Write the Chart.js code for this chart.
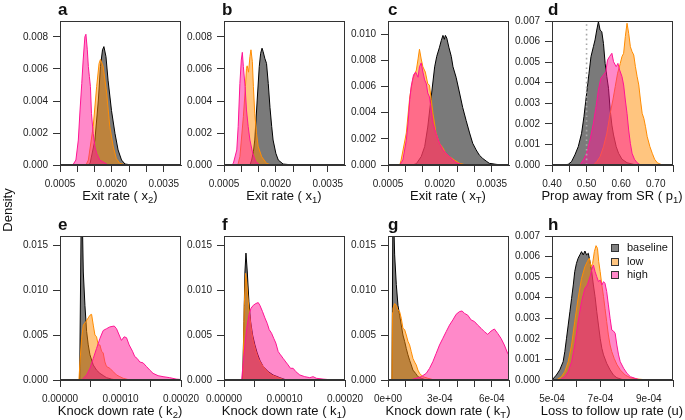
<!DOCTYPE html>
<html><head><meta charset="utf-8">
<script src="https://cdn.jsdelivr.net/npm/chart.js@4/dist/chart.umd.min.js"></script>
<style>
html,body{margin:0;padding:0;}
body{width:685px;height:420px;position:relative;background:#fff;overflow:hidden;font-family:"Liberation Sans",Arial,Helvetica,sans-serif;color:#111;}
canvas{position:absolute;}
.t{position:absolute;width:220px;text-align:center;font-size:13px;line-height:14px;white-space:nowrap;z-index:5;}
.t span{font-size:9.5px;position:relative;top:3px;}
.L{position:absolute;font-weight:bold;font-size:17px;line-height:17px;z-index:5;}
.dens{position:absolute;left:-22px;top:202px;width:60px;text-align:center;font-size:13px;line-height:16px;transform:rotate(-90deg);z-index:5;}
.lg{position:absolute;font-size:11px;line-height:13px;z-index:5;}
.sq{position:absolute;width:6px;height:6px;border:1px solid #333;z-index:5;}
</style></head><body>
<script>
// ---------- data ----------
const seriesNames = ['baseline', 'low', 'high'];

// panel a : Exit rate (x2)
const aBaseX = [0.0013, 0.00137, 0.00151, 0.00161, 0.00167, 0.00173, 0.00177, 0.00183, 0.00189, 0.00199, 0.00209, 0.00218, 0.00228, 0.00238, 0.00252, 0.0027];
const aBaseY = [0, 0.0001, 0.00156, 0.00406, 0.00615, 0.0072, 0.0074, 0.00677, 0.0053, 0.0034, 0.00198, 0.00094, 0.00031, 0.00006, 0.00002, 0];
const aLowX = [0.00125, 0.00132, 0.00146, 0.00156, 0.00163, 0.00167, 0.00175, 0.00185, 0.00194, 0.00204, 0.00213, 0.00223, 0.00242];
const aLowY = [0, 0.00031, 0.0024, 0.0049, 0.00635, 0.0066, 0.00615, 0.0045, 0.0024, 0.00115, 0.0004, 0.0001, 0];
const aHighX = [0.00087, 0.00096, 0.00103, 0.00108, 0.00113, 0.00117, 0.00122, 0.00125, 0.00129, 0.00132, 0.00135, 0.00138, 0.00141, 0.00146, 0.00151, 0.00156, 0.00165, 0.00185, 0.0019];
const aHighY = [0, 0.00031, 0.00156, 0.00344, 0.0051, 0.00656, 0.00802, 0.00817, 0.0072, 0.00615, 0.00552, 0.0049, 0.00323, 0.00198, 0.00115, 0.00073, 0.00031, 0.00006, 0];

// panel b : Exit rate (x1)
const bBaseX = [0.00125, 0.0013, 0.00135, 0.00139, 0.00146, 0.00152, 0.00156, 0.0016, 0.00163, 0.00168, 0.00173, 0.00178, 0.00183, 0.00188, 0.00192, 0.002, 0.00207, 0.00221, 0.0025];
const bBaseY = [0, 0.00031, 0.00083, 0.00156, 0.00406, 0.00615, 0.00698, 0.0073, 0.0071, 0.00667, 0.00635, 0.0051, 0.0036, 0.0024, 0.00156, 0.00073, 0.00031, 0.00006, 0];
const bLowX = [0.0009, 0.00096, 0.00106, 0.00112, 0.00115, 0.00117, 0.00121, 0.00125, 0.00128, 0.00132, 0.00135, 0.00139, 0.00144, 0.00149, 0.00159, 0.00173, 0.00188];
const bLowY = [0, 0.00052, 0.00302, 0.0049, 0.00604, 0.0062, 0.0058, 0.00677, 0.0072, 0.00646, 0.0049, 0.0032, 0.00198, 0.00115, 0.00052, 0.0001, 0];
const bHighX = [0.00072, 0.00077, 0.00087, 0.00091, 0.00096, 0.001, 0.00103, 0.00106, 0.00111, 0.00115, 0.0012, 0.00125, 0.00133, 0.00142, 0.00154];
const bHighY = [0, 0.0001, 0.00094, 0.0024, 0.0051, 0.00656, 0.00704, 0.00615, 0.0049, 0.00344, 0.0024, 0.00156, 0.00073, 0.00021, 0];

// panel c : Exit rate (xT)
const cBaseX = [0.0012, 0.00132, 0.00146, 0.00156, 0.00165, 0.00175, 0.00185, 0.00191, 0.00199, 0.00204, 0.00209, 0.00213, 0.00216, 0.0022, 0.00226, 0.00233, 0.00238, 0.00247, 0.00257, 0.00266, 0.00276, 0.00286, 0.00295, 0.00305, 0.00314, 0.00324, 0.00334, 0.00343, 0.00363, 0.00382];
const cBaseY = [0, 0.0001, 0.00064, 0.0014, 0.0029, 0.0052, 0.0075, 0.0083, 0.009, 0.0095, 0.0099, 0.0096, 0.0099, 0.0097, 0.009, 0.0083, 0.0075, 0.0067, 0.0055, 0.0044, 0.0034, 0.00245, 0.00166, 0.00115, 0.00076, 0.0005, 0.0003, 0.00013, 0.00005, 0];
const cLowX = [0.00084, 0.00088, 0.00103, 0.00113, 0.00122, 0.00132, 0.00137, 0.00141, 0.00146, 0.00151, 0.00158, 0.00165, 0.0017, 0.00175, 0.0018, 0.00189, 0.00199, 0.00209, 0.00218, 0.00228, 0.00242, 0.00257, 0.00276];
const cLowY = [0, 0.00038, 0.00245, 0.0052, 0.0066, 0.00725, 0.0081, 0.00884, 0.0081, 0.0075, 0.0071, 0.0062, 0.0061, 0.005, 0.00395, 0.00245, 0.00166, 0.0013, 0.00085, 0.00064, 0.00038, 0.00013, 0];
const cHighX = [0.00084, 0.00093, 0.00103, 0.00108, 0.00113, 0.00117, 0.00124, 0.0013, 0.00137, 0.00141, 0.00146, 0.00151, 0.00156, 0.00161, 0.00165, 0.0017, 0.00175, 0.0018, 0.00189, 0.00199, 0.00209, 0.00218, 0.00228, 0.00238, 0.00247, 0.00266];
const cHighY = [0, 0.00038, 0.0019, 0.0032, 0.005, 0.006, 0.0069, 0.0071, 0.0067, 0.0075, 0.0078, 0.0071, 0.0065, 0.0062, 0.0055, 0.0052, 0.0042, 0.0032, 0.0024, 0.00166, 0.00115, 0.0009, 0.00064, 0.00038, 0.00018, 0];

// panel d : Prop away from SR (p1)
const dBaseX = [0.42, 0.4467, 0.4564, 0.4662, 0.4759, 0.4856, 0.4924, 0.5002, 0.507, 0.5128, 0.5197, 0.5245, 0.5294, 0.5343, 0.5391, 0.544, 0.5489, 0.5537, 0.5586, 0.5635, 0.5683, 0.5732, 0.578, 0.5858, 0.5926, 0.6024, 0.617, 0.6364, 0.651];
const dBaseY = [0, 0.00003, 0.00016, 0.00049, 0.00089, 0.00154, 0.00235, 0.00348, 0.00446, 0.00527, 0.00575, 0.00608, 0.00656, 0.00697, 0.00656, 0.00648, 0.0059, 0.00494, 0.0043, 0.00373, 0.00267, 0.00194, 0.00146, 0.00089, 0.00057, 0.00028, 0.00011, 0.00003, 0];
const dLowX = [0.5197, 0.5294, 0.5391, 0.5489, 0.5586, 0.5683, 0.5761, 0.5829, 0.5897, 0.5975, 0.6024, 0.6072, 0.6121, 0.617, 0.6218, 0.6267, 0.6316, 0.6364, 0.6413, 0.6462, 0.651, 0.6559, 0.6608, 0.6656, 0.6705, 0.6754, 0.6832, 0.69, 0.6968, 0.7045, 0.7191];
const dLowY = [0, 0.00016, 0.00041, 0.00089, 0.00154, 0.00251, 0.00316, 0.00381, 0.00446, 0.00494, 0.00527, 0.00543, 0.00624, 0.00689, 0.0064, 0.00575, 0.00551, 0.00535, 0.00478, 0.0043, 0.00389, 0.00316, 0.00251, 0.00227, 0.00186, 0.00138, 0.00089, 0.00057, 0.00028, 0.00011, 0];
const dHighX = [0.4808, 0.4905, 0.5002, 0.51, 0.5197, 0.5275, 0.5343, 0.5411, 0.5489, 0.5557, 0.5605, 0.5664, 0.5732, 0.578, 0.5858, 0.5907, 0.5956, 0.6024, 0.6072, 0.6121, 0.617, 0.6218, 0.6267, 0.6316, 0.6384, 0.6462, 0.6559];
const dHighY = [0, 0.00024, 0.00057, 0.00122, 0.00203, 0.00284, 0.00365, 0.00421, 0.00438, 0.00454, 0.0051, 0.00527, 0.00543, 0.00502, 0.00478, 0.00494, 0.00462, 0.0043, 0.00389, 0.00316, 0.00251, 0.0017, 0.00105, 0.00057, 0.00028, 0.00011, 0];
const dRefX = [0.5, 0.5];
const dRefY = [0, 0.007];

// panel e : Knock down rate (k2)
const eBaseX = [0.0000325, 0.000035, 0.0000362, 0.0000374, 0.0000385, 0.0000412, 0.000044, 0.0000467, 0.0000495, 0.000055, 0.0000604, 0.0000659, 0.0000714, 0.0000769, 0.0000852, 0.0000934];
const eBaseY = [0, 0.018, 0.024, 0.016, 0.012, 0.0083, 0.0054, 0.0039, 0.0028, 0.00167, 0.0011, 0.00074, 0.0005, 0.00026, 0.0001, 0];
const eLowX = [0.0000313, 0.000033, 0.0000357, 0.0000385, 0.0000429, 0.0000467, 0.0000495, 0.0000522, 0.000055, 0.0000577, 0.0000604, 0.0000632, 0.0000659, 0.0000687, 0.0000714, 0.0000742, 0.0000769, 0.0000824, 0.0000879, 0.0000934, 0.0000989, 0.0001044, 0.0001154];
const eLowY = [0, 0.002, 0.0046, 0.0061, 0.0065, 0.0069, 0.0072, 0.0073, 0.0061, 0.005, 0.0048, 0.0039, 0.0039, 0.0032, 0.003, 0.002, 0.0015, 0.0013, 0.00093, 0.00056, 0.00037, 0.00019, 0];
const eHighX = [0.0000357, 0.000044, 0.0000495, 0.000055, 0.0000604, 0.0000659, 0.0000714, 0.0000769, 0.0000824, 0.0000896, 0.0000934, 0.0000978, 0.0001016, 0.000106, 0.0001099, 0.0001143, 0.0001198, 0.0001236, 0.0001275, 0.0001319, 0.0001374, 0.0001429, 0.0001484, 0.0001538, 0.0001621, 0.0001703, 0.0001813, 0.000192, 0.0002];
const eHighY = [0, 0.00056, 0.0013, 0.0024, 0.0035, 0.0046, 0.0055, 0.0057, 0.0059, 0.006, 0.0057, 0.005, 0.0044, 0.0048, 0.0047, 0.0039, 0.0032, 0.0026, 0.0024, 0.002, 0.0019, 0.0015, 0.0011, 0.00074, 0.00048, 0.00037, 0.00026, 0.0001, 0.00005];

// panel f : Knock down rate (k1)
const fBaseX = [0.0000308, 0.000033, 0.0000346, 0.0000363, 0.0000385, 0.0000412, 0.000044, 0.0000473, 0.0000511, 0.0000549, 0.0000593, 0.0000648, 0.0000731, 0.0000813, 0.0000923, 0.0001033];
const fBaseY = [0, 0.0065, 0.012, 0.0141, 0.012, 0.0087, 0.0065, 0.005, 0.0039, 0.003, 0.0022, 0.0015, 0.00093, 0.00056, 0.00026, 0];
const fLowX = [0.0000313, 0.0000335, 0.0000357, 0.0000374, 0.0000401, 0.0000429, 0.0000456, 0.0000484, 0.0000527, 0.0000566, 0.0000621, 0.0000703, 0.0000786, 0.0000896, 0.0001005];
const fLowY = [0, 0.0083, 0.01185, 0.0109, 0.0087, 0.0069, 0.0054, 0.0043, 0.0032, 0.0024, 0.00175, 0.001, 0.00056, 0.00026, 0];
const fHighX = [0.0000291, 0.0000319, 0.0000346, 0.0000374, 0.0000412, 0.0000445, 0.0000484, 0.0000527, 0.0000566, 0.0000593, 0.0000637, 0.0000676, 0.0000714, 0.0000747, 0.0000786, 0.0000824, 0.0000857, 0.0000896, 0.0000934, 0.0000978, 0.0001022, 0.000106, 0.0001099, 0.0001143, 0.0001187, 0.0001253, 0.0001335, 0.0001418, 0.0001473, 0.0001527, 0.0001637, 0.0001802];
const fHighY = [0, 0.002, 0.0039, 0.0057, 0.0072, 0.00796, 0.0083, 0.0085, 0.0086, 0.0083, 0.0076, 0.0069, 0.0063, 0.0056, 0.0052, 0.0046, 0.0041, 0.00315, 0.0028, 0.0024, 0.002, 0.00167, 0.0013, 0.0013, 0.00093, 0.00056, 0.00037, 0.00026, 0.00037, 0.00019, 0.0001, 0];

// panel g : Knock down rate (kT)
const gBaseX = [0.0000231, 0.0000288, 0.0000327, 0.0000385, 0.000048, 0.0000577, 0.0000673, 0.0000769, 0.0000865, 0.0000962, 0.0001058, 0.0001154, 0.000125, 0.0001346, 0.0001442, 0.0001596, 0.0001731, 0.0001923, 0.0002212];
const gBaseY = [0, 0.02, 0.018, 0.0139, 0.0106, 0.0083, 0.0072, 0.0061, 0.005, 0.0043, 0.0035, 0.0028, 0.0022, 0.00167, 0.0011, 0.00074, 0.00037, 0.00019, 0];
const gLowX = [0.0000231, 0.000026, 0.0000288, 0.0000385, 0.000048, 0.0000577, 0.0000673, 0.0000769, 0.0000865, 0.0000962, 0.0001058, 0.0001154, 0.000125, 0.0001346, 0.0001442, 0.0001538, 0.0001635, 0.0001731, 0.0001827, 0.0002019, 0.0002308, 0.0002692];
const gLowY = [0, 0.0075, 0.00796, 0.0085, 0.0083, 0.0078, 0.0076, 0.00685, 0.00574, 0.0056, 0.005, 0.0043, 0.0039, 0.00315, 0.0024, 0.002, 0.00167, 0.0011, 0.00074, 0.00037, 0.00019, 0];
const gHighX = [0.000125, 0.0001635, 0.0001923, 0.0002212, 0.0002404, 0.0002596, 0.0002788, 0.0002981, 0.0003173, 0.0003365, 0.0003558, 0.000375, 0.0003942, 0.0004135, 0.0004288, 0.0004423, 0.0004615, 0.0004808, 0.0005, 0.0005192, 0.0005385, 0.0005577, 0.0005769, 0.0005962, 0.0006154, 0.0006346, 0.0006538, 0.0006731, 0.0006923, 0.00072, 0.00075];
const gHighY = [0, 0.00019, 0.00037, 0.00074, 0.0013, 0.00204, 0.00296, 0.00389, 0.00463, 0.00537, 0.0061, 0.00667, 0.0073, 0.0076, 0.00767, 0.0074, 0.0072, 0.00667, 0.0065, 0.0061, 0.00574, 0.00537, 0.00507, 0.00544, 0.00567, 0.00518, 0.00463, 0.00389, 0.00296, 0.0022, 0.0012];

// panel h : Loss to follow up rate (u)
const hBaseX = [0.0005, 0.000518, 0.000532, 0.000546, 0.000553, 0.00056, 0.000567, 0.000574, 0.000581, 0.000588, 0.000594, 0.000601, 0.000608, 0.000615, 0.000622, 0.000629, 0.000636, 0.000643, 0.00065, 0.000657, 0.000664, 0.000671, 0.000678, 0.000685, 0.000692, 0.000699, 0.000706, 0.000713, 0.000726, 0.00074, 0.000754, 0.000768, 0.000789, 0.00081];
const hBaseY = [0, 0.00024, 0.00049, 0.00089, 0.00138, 0.00203, 0.00267, 0.00332, 0.00397, 0.00462, 0.00527, 0.00567, 0.00592, 0.00608, 0.00624, 0.00608, 0.00627, 0.00608, 0.00616, 0.00576, 0.00527, 0.00462, 0.00405, 0.00332, 0.00267, 0.00203, 0.00154, 0.00122, 0.00081, 0.00049, 0.00024, 0.00011, 0.00003, 0];
const hLowX = [0.000518, 0.000539, 0.000553, 0.000567, 0.000581, 0.000594, 0.000608, 0.000622, 0.000636, 0.000646, 0.000654, 0.000661, 0.000668, 0.000675, 0.000682, 0.000688, 0.000693, 0.000699, 0.000706, 0.000713, 0.000719, 0.000726, 0.000733, 0.00074, 0.000747, 0.000757, 0.000768, 0.000782, 0.000803, 0.000824, 0.000851, 0.000879, 0.000907];
const hLowY = [0, 0.00016, 0.00041, 0.00089, 0.0017, 0.00284, 0.00397, 0.00494, 0.00551, 0.00576, 0.00592, 0.00551, 0.00567, 0.00624, 0.00653, 0.0064, 0.00576, 0.00527, 0.00462, 0.00405, 0.00348, 0.00284, 0.00219, 0.0017, 0.00138, 0.00105, 0.00076, 0.00049, 0.00024, 0.00011, 0.00005, 0.00002, 0];
const hHighX = [0.000532, 0.000553, 0.000567, 0.000581, 0.000594, 0.000608, 0.000622, 0.000636, 0.000646, 0.000657, 0.000664, 0.000671, 0.000678, 0.000685, 0.000692, 0.000699, 0.000706, 0.000713, 0.000719, 0.000726, 0.000733, 0.00074, 0.000747, 0.000754, 0.000761, 0.000768, 0.000775, 0.000782, 0.000796, 0.00081, 0.000824, 0.000844, 0.000865];
const hHighY = [0, 0.00016, 0.00041, 0.00089, 0.0017, 0.00284, 0.00381, 0.00446, 0.00462, 0.00502, 0.00535, 0.00559, 0.00527, 0.00502, 0.00478, 0.00486, 0.00462, 0.00478, 0.0047, 0.0043, 0.00365, 0.003, 0.00243, 0.00238, 0.00227, 0.0017, 0.00122, 0.00089, 0.00057, 0.00032, 0.00016, 0.00008, 0];

// ---------- tick values / labels ----------
const xTicksExit = [0.0005, 0.001, 0.0015, 0.002, 0.0025, 0.003, 0.0035];
const xLabelsExit = ['0.0005', '', '', '0.0020', '', '', '0.0035'];
const xTicksProp = [0.40, 0.45, 0.50, 0.55, 0.60, 0.65, 0.70, 0.75];
const xLabelsProp = ['0.40', '', '0.50', '', '0.60', '', '0.70', ''];
const xTicksK = [0, 0.00005, 0.0001, 0.00015, 0.0002];
const xLabelsK = ['0.00000', '', '0.00010', '', '0.00020'];
const xTicksKT = [0, 0.0001, 0.0002, 0.0003, 0.0004, 0.0005, 0.0006, 0.0007];
const xLabelsKT = ['0e+00', '', '', '3e-04', '', '', '6e-04', ''];
const xTicksU = [0.0005, 0.0006, 0.0007, 0.0008, 0.0009, 0.001];
const xLabelsU = ['5e-04', '', '7e-04', '', '9e-04', ''];
const yTicks9 = [0, 0.002, 0.004, 0.006, 0.008];
const yTicks11 = [0, 0.002, 0.004, 0.006, 0.008, 0.010];
const yTicks7 = [0, 0.001, 0.002, 0.003, 0.004, 0.005, 0.006, 0.007];
const yTicks16 = [0, 0.005, 0.010, 0.015];

// ---------- rendering ----------
Chart.defaults.font.family = '"Liberation Sans", Arial, Helvetica, sans-serif';
Chart.defaults.font.size = 10;
Chart.defaults.color = '#222';

const COLORS = {
  baseline: {line: '#000000', fill: 'rgba(0,0,0,0.52)'},
  low: {line: '#ff8c00', fill: 'rgba(255,140,0,0.5)'},
  high: {line: '#ff1493', fill: 'rgba(255,20,147,0.5)'}
};
const AX = '#333';

const boxPlugin = {
  id: 'rbox',
  afterDatasetsDraw(chart) {
    const {ctx, chartArea: a} = chart;
    ctx.save();
    ctx.strokeStyle = AX; ctx.lineWidth = 1;
    const l = Math.round(a.left) + 0.5, t = Math.round(a.top) + 0.5;
    const r = Math.round(a.right) - 0.5, b = Math.round(a.bottom) - 0.5;
    ctx.strokeRect(l, t, r - l, b - t);
    ctx.restore();
  }
};

function pts(xs, ys) { return xs.map((x, i) => ({x: x, y: ys[i]})); }

function panel(p) {
  const cv = document.createElement('canvas');
  cv.width = 206; cv.height = 205;
  cv.style.left = p.left + 'px'; cv.style.top = p.top + 'px';
  cv.style.width = '206px'; cv.style.height = '205px';
  document.body.appendChild(cv);
  const sets = [
    ['baseline', p.base, 2], ['low', p.low, 1], ['high', p.high, 0]
  ].map(([name, xy, ord]) => ({
    label: name, data: pts(xy[0], xy[1]), order: ord,
    borderColor: COLORS[name].line, backgroundColor: COLORS[name].fill,
    borderWidth: 1, fill: 'origin', pointRadius: 0, tension: 0
  }));
  if (p.ref) {
    sets.push({label: 'ref', data: pts(p.ref[0], p.ref[1]), order: -1, borderColor: '#a8a8a8',
      borderWidth: 1.6, borderDash: [1.6, 3.2], fill: false, pointRadius: 0});
  }
  new Chart(cv, {
    type: 'line',
    data: {datasets: sets},
    options: {
      responsive: false, animation: false, devicePixelRatio: 1,
      layout: {padding: {left: 0, right: 25, top: 21, bottom: 0}},
      plugins: {legend: {display: false}, tooltip: {enabled: false}},
      scales: {
        x: {
          type: 'linear', min: p.xmin, max: p.xmax,
          afterFit: s => { s.height = 40; },
          afterBuildTicks: s => { s.ticks = p.xt.map(v => ({value: v})); },
          ticks: {autoSkip: false, maxRotation: 0, minRotation: 0, padding: 6, color: '#222',
            callback: (v, i) => p.xl[i]},
          grid: {drawOnChartArea: false, drawTicks: true, tickLength: 7, color: AX, tickColor: AX},
          border: {display: true, color: AX}
        },
        y: {
          min: 0, max: p.ymax,
          afterFit: s => { s.width = 60; },
          afterBuildTicks: s => { s.ticks = p.yt.map(v => ({value: v})); },
          ticks: {padding: 5, color: '#222', callback: v => Number(v).toFixed(3)},
          grid: {drawOnChartArea: false, drawTicks: true, tickLength: 7, color: AX, tickColor: AX},
          border: {display: true, color: AX}
        }
      }
    },
    plugins: [boxPlugin]
  });
}

const ROW1 = 0, ROW2 = 215;
panel({left: 0, top: ROW1, base: [aBaseX, aBaseY], low: [aLowX, aLowY], high: [aHighX, aHighY], xmin: 0.0005, xmax: 0.004, xt: xTicksExit, xl: xLabelsExit, ymax: 0.009, yt: yTicks9});
panel({left: 164, top: ROW1, base: [bBaseX, bBaseY], low: [bLowX, bLowY], high: [bHighX, bHighY], xmin: 0.0005, xmax: 0.004, xt: xTicksExit, xl: xLabelsExit, ymax: 0.009, yt: yTicks9});
panel({left: 328, top: ROW1, base: [cBaseX, cBaseY], low: [cLowX, cLowY], high: [cHighX, cHighY], xmin: 0.0005, xmax: 0.004, xt: xTicksExit, xl: xLabelsExit, ymax: 0.011, yt: yTicks11});
panel({left: 492, top: ROW1, base: [dBaseX, dBaseY], low: [dLowX, dLowY], high: [dHighX, dHighY], ref: [dRefX, dRefY], xmin: 0.40, xmax: 0.75, xt: xTicksProp, xl: xLabelsProp, ymax: 0.007, yt: yTicks7});
panel({left: 0, top: ROW2, base: [eBaseX, eBaseY], low: [eLowX, eLowY], high: [eHighX, eHighY], xmin: 0, xmax: 0.0002, xt: xTicksK, xl: xLabelsK, ymax: 0.016, yt: yTicks16});
panel({left: 164, top: ROW2, base: [fBaseX, fBaseY], low: [fLowX, fLowY], high: [fHighX, fHighY], xmin: 0, xmax: 0.0002, xt: xTicksK, xl: xLabelsK, ymax: 0.016, yt: yTicks16});
panel({left: 328, top: ROW2, base: [gBaseX, gBaseY], low: [gLowX, gLowY], high: [gHighX, gHighY], xmin: 0, xmax: 0.0007, xt: xTicksKT, xl: xLabelsKT, ymax: 0.016, yt: yTicks16});
panel({left: 492, top: ROW2, base: [hBaseX, hBaseY], low: [hLowX, hLowY], high: [hHighX, hHighY], xmin: 0.0005, xmax: 0.001, xt: xTicksU, xl: xLabelsU, ymax: 0.007, yt: yTicks7});
</script>

<div class="dens">Density</div>

<div class="L" style="left:58px;top:1px;">a</div>
<div class="L" style="left:222px;top:1px;">b</div>
<div class="L" style="left:388px;top:1px;">c</div>
<div class="L" style="left:548px;top:1px;">d</div>
<div class="L" style="left:58px;top:216px;">e</div>
<div class="L" style="left:222px;top:216px;">f</div>
<div class="L" style="left:388px;top:216px;">g</div>
<div class="L" style="left:548px;top:216px;">h</div>

<div class="t" style="left:10px;top:189px;">Exit rate ( x<span>2</span>)</div>
<div class="t" style="left:174px;top:189px;">Exit rate ( x<span>1</span>)</div>
<div class="t" style="left:338px;top:189px;">Exit rate ( x<span>T</span>)</div>
<div class="t" style="left:502px;top:189px;">Prop away from SR ( p<span>1</span>)</div>
<div class="t" style="left:10px;top:404px;">Knock down rate ( k<span>2</span>)</div>
<div class="t" style="left:174px;top:404px;">Knock down rate ( k<span>1</span>)</div>
<div class="t" style="left:338px;top:404px;">Knock down rate ( k<span>T</span>)</div>
<div class="t" style="left:502px;top:404px;">Loss to follow up rate (u)</div>

<div class="sq" style="left:611px;top:244px;background:rgb(128,128,128);"></div>
<div class="lg" style="left:627px;top:241px;">baseline</div>
<div class="sq" style="left:611px;top:258px;background:rgb(255,197,128);"></div>
<div class="lg" style="left:627px;top:255px;">low</div>
<div class="sq" style="left:611px;top:271px;background:rgb(255,137,201);"></div>
<div class="lg" style="left:627px;top:268px;">high</div>
</body></html>
